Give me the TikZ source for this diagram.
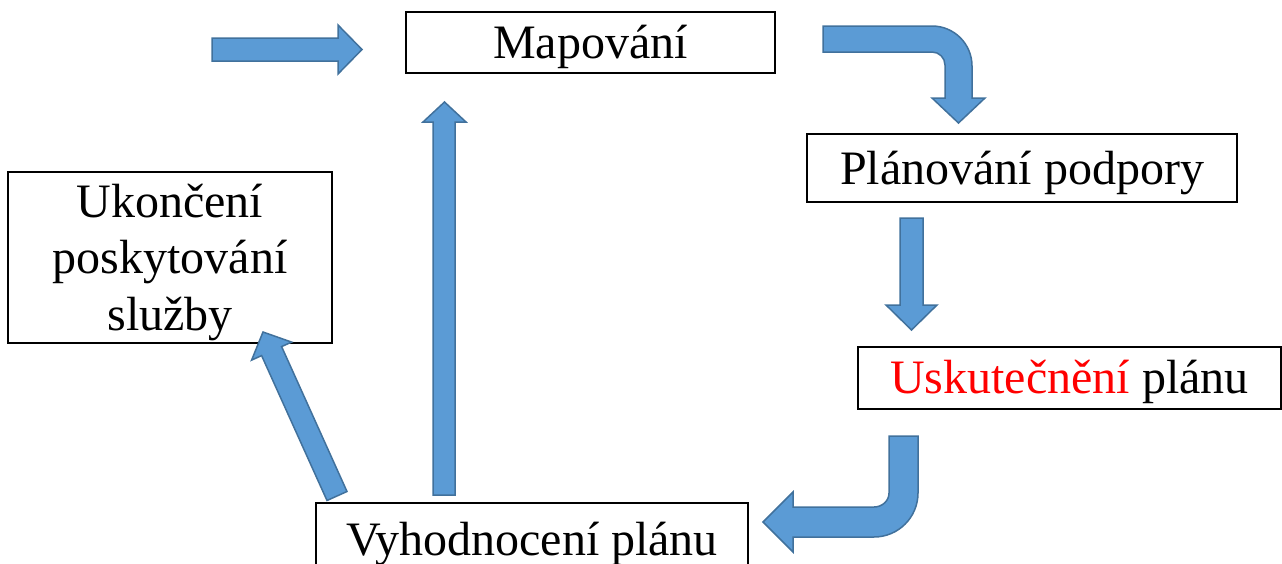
\documentclass[tikz,border=0pt]{standalone}
\usepackage{fontspec}
\setmainfont{Liberation Serif}
\definecolor{arrowfill}{HTML}{5B9BD5}
\definecolor{arrowline}{HTML}{41719C}
\definecolor{hired}{HTML}{FF0000}
\begin{document}
\begin{tikzpicture}[x=1pt,y=-1pt,
  box/.style={draw=black, line width=2.5pt, inner sep=0pt, fill=white,
    font=\fontsize{48}{56.5}\selectfont},
  onebox/.style={box, text depth=5pt},
  blockarrow/.style={fill=arrowfill, draw=arrowline, line width=1.5pt, line join=miter}]
\useasboundingbox (0,0) rectangle (1282,563);
\clip (0,0) rectangle (1282,563);
% boxes
\node[onebox, minimum width=369pt, minimum height=61pt, text height=36.6pt] (map) at (590.5,42.5) {Mapování};
\node[onebox, minimum width=430pt, minimum height=68pt, text height=38pt] (plan) at (1022,168) {Plánování podpory};
\node[onebox, minimum width=423pt, minimum height=62pt, text height=35pt] (usk) at (1069.5,378) {{\color{hired}Uskutečnění} plánu};
\node[onebox, minimum width=432pt, minimum height=73pt, text height=36pt] (vyh) at (532,539.5) {Vyhodnocení plánu};
\node[box, align=center, minimum width=324pt, minimum height=171pt] (ukon) at (170,257.5)
  {\rule{0pt}{42.5pt}Ukončení\\poskytování\\služby};
% straight arrow into Mapování
\path[blockarrow] (212,38) -- (338,38) -- (338,25) -- (362,49.5) -- (338,74) -- (338,61) -- (212,61) -- cycle;
% bent arrow Mapování -> Plánování
\path[blockarrow] (823,26) -- (932,26) .. controls (954.1,26) and (972,43.9) .. (972,66)
  -- (972,98) -- (985,98) -- (958.5,123) -- (932,98) -- (945,98) -- (945,65)
  .. controls (945,57.8) and (939.2,52) .. (932,52) -- (823,52) -- cycle;
% down arrow Plánování -> Uskutečnění
\path[blockarrow] (900,218) -- (923,218) -- (923,305) -- (937,305) -- (911.5,330) -- (886,305) -- (900,305) -- cycle;
% bent arrow Uskutečnění -> Vyhodnocení
\path[blockarrow] (889,436) -- (918,436) -- (918,493) .. controls (918,517.3) and (898.3,537) .. (874,537)
  -- (793,537) -- (793,552) -- (763,522) -- (793,492) -- (793,507) -- (874,507)
  .. controls (882.3,507) and (889,500.7) .. (889,493) -- cycle;
% up arrow Vyhodnocení -> Mapování
\path[blockarrow] (433,495) -- (433,122) -- (423,122) -- (444.5,102) -- (466,122) -- (455,122) -- (455,495) -- cycle;
% diagonal arrow Vyhodnocení -> Ukončení
\path[blockarrow] (327.0,500.5) -- (261.6,355.6) -- (251.6,360.1) -- (263,332) -- (291.6,342.1) -- (281.6,346.6) -- (347.0,491.5) -- cycle;
\end{tikzpicture}
\end{document}
